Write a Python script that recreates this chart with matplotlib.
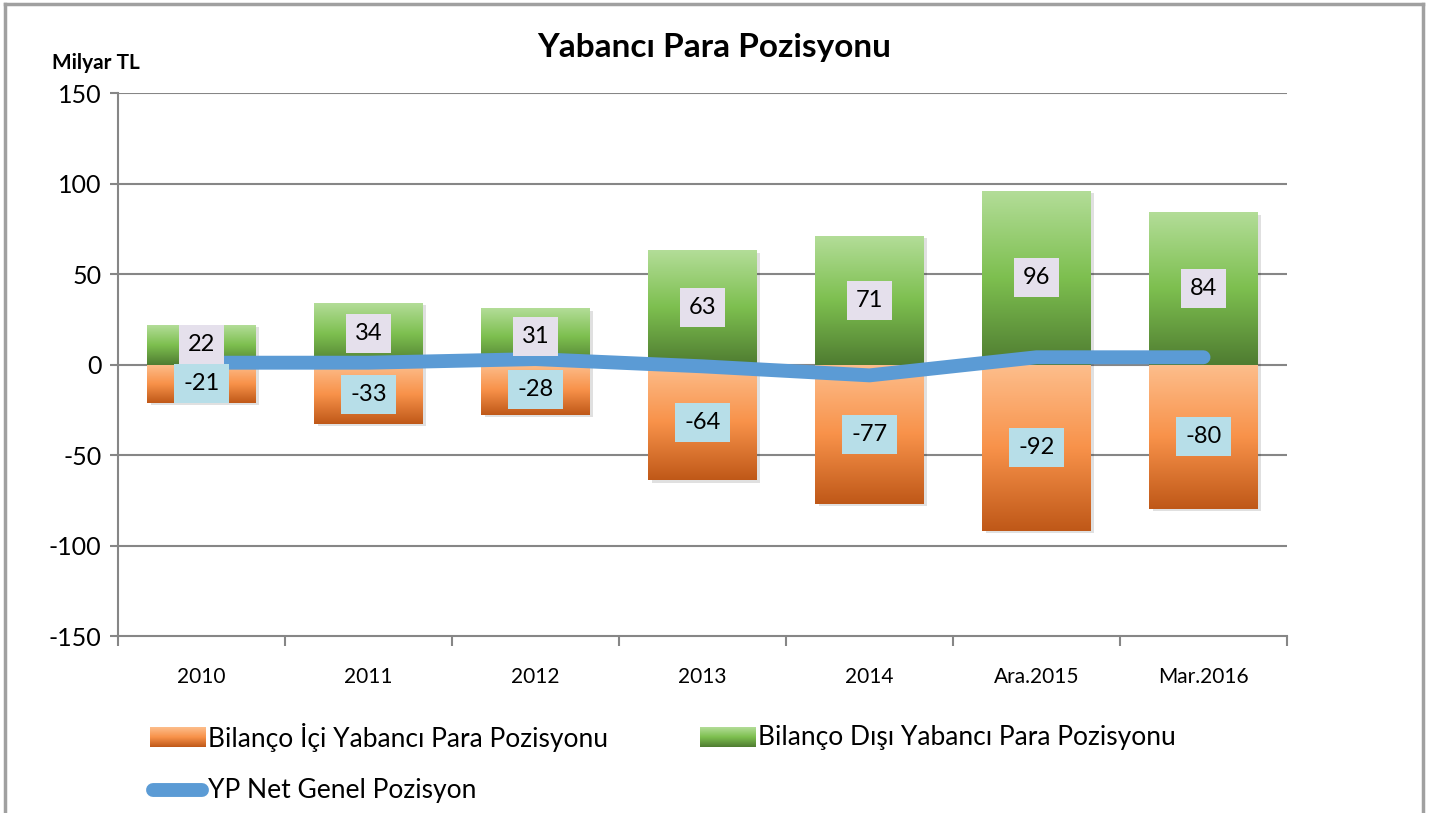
#!/usr/bin/env python

import numpy as np
from matplotlib import pyplot as plt
from matplotlib.colors import LinearSegmentedColormap
from matplotlib.lines import Line2D
from matplotlib.patches import Rectangle

plt.rcParams['font.family'] = ['Lato', 'DejaVu Sans']
plt.rcParams['axes.unicode_minus'] = False

categories = ['2010', '2011', '2012', '2013', '2014', 'Ara.2015', 'Mar.2016']
bilanco_ici = [-21, -33, -28, -64, -77, -92, -80]
bilanco_disi = [22, 34, 31, 63, 71, 96, 84]
net_genel = [1, 1, 3, -1, -6, 4, 4]

GRID = '#868686'
green_cmap = LinearSegmentedColormap.from_list('g', ['#b3dd98', '#7dbf4f', '#4f7c31'])
orange_cmap = LinearSegmentedColormap.from_list('o', ['#fdbe8c', '#f8924a', '#bf5818'])
grad = np.linspace(0, 1, 256).reshape(-1, 1)

fig = plt.figure(figsize=(14.39, 8.13), dpi=100)
ax = fig.add_axes([0.082, 0.2177, 0.8124, 0.6679])

x = np.arange(len(categories))
W = 0.65


def gradient_bars(vals, cmap):
    bars = ax.bar(x, vals, W, color='none', zorder=2)
    for b in bars:
        x0, y0 = b.get_x(), b.get_y()
        w, h = b.get_width(), b.get_height()
        lo, hi = min(y0, y0 + h), max(y0, y0 + h)
        # soft shadow
        ax.add_patch(Rectangle((x0 + 0.02, lo - 1.2), w, hi - lo, color='#000000',
                               alpha=0.12, lw=0, zorder=1.5))
        ax.imshow(grad, cmap=cmap, extent=[x0, x0 + w, lo, hi], origin='upper',
                  aspect='auto', zorder=2, interpolation='bilinear')
    return bars


gradient_bars(bilanco_ici, orange_cmap)
gradient_bars(bilanco_disi, green_cmap)

ax.plot(x, net_genel, color='#5b9bd5', lw=10, solid_capstyle='round',
        solid_joinstyle='round', zorder=3)

for i in range(len(categories)):
    ax.text(x[i], bilanco_disi[i] / 2, str(bilanco_disi[i]), ha='center', va='center',
            fontsize=17, zorder=5,
            bbox=dict(boxstyle='square,pad=0.38', fc='#e5e0ec', ec='none'))
    ax.text(x[i], bilanco_ici[i] / 2, str(bilanco_ici[i]), ha='center', va='center',
            fontsize=17, zorder=5,
            bbox=dict(boxstyle='square,pad=0.38', fc='#b7dee8', ec='none'))

ax.set_xlim(-0.5, len(categories) - 0.5)
ax.set_ylim(-150, 150)
ax.set_yticks(np.arange(-150, 151, 50))
ax.tick_params(axis='y', labelsize=18, length=6, color=GRID, width=1.5, pad=6)
for v in range(-100, 151, 50):
    ax.axhline(v, color=GRID, lw=1.5, zorder=0)

ax.set_xticks(x)
ax.set_xticklabels(categories)
ax.set_xticks(np.arange(-0.5, len(categories), 1), minor=True)
ax.tick_params(axis='x', which='major', length=0, labelsize=15, pad=22)
ax.tick_params(axis='x', which='minor', length=7, color=GRID, width=1.5)

for s in ['top', 'right']:
    ax.spines[s].set_visible(False)
for s in ['left', 'bottom']:
    ax.spines[s].set_color(GRID)
    ax.spines[s].set_linewidth(1.5)

fig.text(714 / 1439, 1 - 48 / 813, 'Yabancı Para Pozisyonu', ha='center', va='center',
         fontsize=24, fontweight='bold')
fig.text(52 / 1439, 1 - 63 / 813, 'Milyar TL', ha='left', va='center',
         fontsize=15, fontweight='bold')

# frame around the chart
for xs, ys in [([5, 5], [813, 4]), ([5, 1423], [4, 4]), ([1423, 1423], [4, 813])]:
    fig.add_artist(Line2D([a / 1439 for a in xs], [1 - b / 813 for b in ys],
                          color='#a0a0a0', lw=2.5))

# legend
def swatch(px, py, cmap):
    sax = fig.add_axes([px / 1439, 1 - (py + 10) / 813, 56 / 1439, 20 / 813])
    sax.imshow(grad, cmap=cmap, aspect='auto', origin='upper')
    sax.axis('off')

swatch(150, 737, orange_cmap)
fig.text(208 / 1439, 1 - 737 / 813, 'Bilanço İçi Yabancı Para Pozisyonu', ha='left',
         va='center', fontsize=19)
swatch(700, 737, green_cmap)
fig.text(758 / 1439, 1 - 737 / 813, 'Bilanço Dışı Yabancı Para Pozisyonu', ha='left',
         va='center', fontsize=19)
fig.add_artist(Line2D([153 / 1439, 202 / 1439], [1 - 790 / 813, 1 - 790 / 813],
                      color='#5b9bd5', lw=10, solid_capstyle='round'))
fig.text(208 / 1439, 1 - 790 / 813, 'YP Net Genel Pozisyon', ha='left', va='center',
         fontsize=19)

fig.savefig('out.png', dpi=100)
